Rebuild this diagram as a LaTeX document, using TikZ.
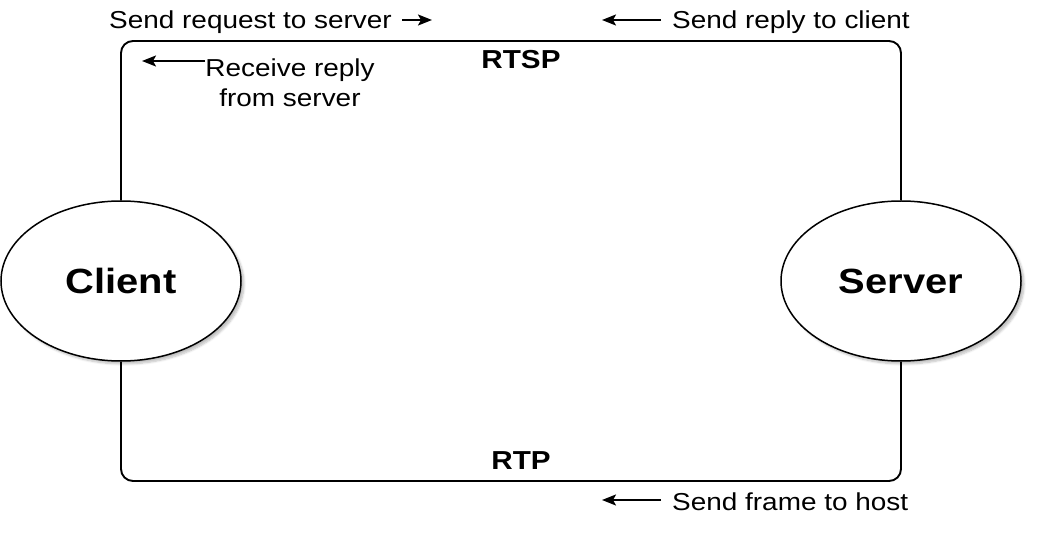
\documentclass[tikz,border=0pt]{standalone}
\usepackage{fontspec}
\setmainfont{Liberation Sans}[FakeStretch=1.14]
\usetikzlibrary{arrows.meta,shadows.blur,shapes.geometric}
\tikzset{
  x=1pt,y=1pt,
  ent/.style={ellipse,draw,line width=1.5pt,minimum width=240pt,minimum height=160pt,inner sep=0pt,
     fill=white,font=\fontsize{35}{40}\selectfont\bfseries,
     blur shadow={shadow xshift=3pt,shadow yshift=-3pt,shadow blur steps=6,shadow opacity=25}},
  link/.style={line width=1.9pt,rounded corners=12pt},
  lbl/.style={inner sep=0pt,font=\fontsize{24.5}{30}\selectfont},
  proto/.style={inner sep=0pt,font=\fontsize{26}{30}\selectfont\bfseries},
  arr/.style={line width=1.9pt,-{Stealth[length=14pt,width=11pt,inset=3pt]}}
}
\begin{document}
\begin{tikzpicture}
\useasboundingbox (0,0) rectangle (1044,544);
\node[ent] (client) at (121,263) {Client};
\node[ent] (server) at (901,263) {Server};
\draw[link] (client.north) -- (121,503) -- (901,503) -- (server.north);
\draw[link] (client.south) -- (121,63) -- (901,63) -- (server.south);
\node[proto] (rtsp) at (521,484) {RTSP};
\node[proto] (rtp) at (521,83) {RTP};
% labels
\node[lbl,anchor=east] (sreq) at (392,522) {Send request to server};
\coordinate (sreqh) at (432,524);
\draw[arr] ([xshift=10pt,yshift=2pt]sreq.east) -- (sreqh);
\node[lbl,anchor=west] (srep) at (672,522) {Send reply to client};
\coordinate (sreph) at (602,524);
\draw[arr] ([xshift=-11pt,yshift=2pt]srep.west) -- (sreph);
\node[lbl,align=center] (recv) at (290,461) {Receive reply\\from server};
\coordinate (recvt) at (205,483);
\coordinate (recvh) at (142,483);
\draw[arr] (recvt) -- (recvh);
\node[lbl,anchor=west] (sfr) at (672,42) {Send frame to host};
\coordinate (sfrh) at (602,44);
\draw[arr] ([xshift=-11pt,yshift=2pt]sfr.west) -- (sfrh);
\end{tikzpicture}
\end{document}
